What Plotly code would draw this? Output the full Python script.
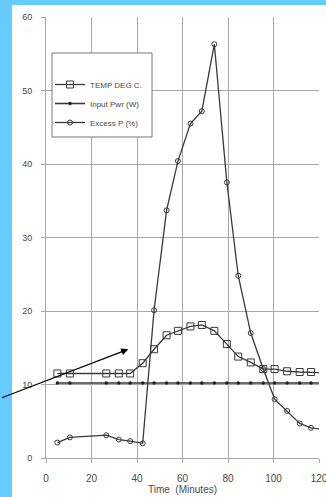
import plotly.graph_objects as go

# Data
time = [5, 10.5, 26.5, 32, 37, 42.5, 47.5, 53, 58, 63.5, 68.5, 74, 79.5, 84.5,
        90, 95.5, 100.5, 106, 111.5, 116.5, 122]
temp = [11.5, 11.5, 11.5, 11.5, 11.5, 12.9, 14.8, 16.7, 17.3, 17.9, 18.1, 17.3,
        15.5, 13.8, 13.0, 12.1, 12.1, 11.8, 11.7, 11.7, 11.6]
input_pwr = [10.2] * 21
excess = [2.1, 2.8, 3.1, 2.5, 2.3, 2.0, 20.1, 33.7, 40.4, 45.5, 47.2, 56.3,
          37.5, 24.8, 17.0, 12.1, 8.0, 6.4, 4.7, 4.1, 3.9]
x_ticks = [0, 20, 40, 60, 80, 100, 120]
y_ticks = [0, 10, 20, 30, 40, 50, 60]

LINE = "#3a3a3a"
TXT = "#4a4a4a"
GRID = "#a8a8a8"
FONT = "Liberation Sans, Arial, sans-serif"

fig = go.Figure()
fig.add_trace(go.Scatter(
    x=time, y=temp, name="TEMP DEG C.", mode="lines+markers",
    line=dict(color=LINE, width=1.3),
    marker=dict(symbol="square-open", size=7, color=LINE, line=dict(width=1)),
))
fig.add_trace(go.Scatter(
    x=time, y=input_pwr, name="Input Pwr (W)", mode="lines+markers",
    line=dict(color=LINE, width=1.6),
    marker=dict(symbol="circle", size=3.5, color="#222"),
))
fig.add_trace(go.Scatter(
    x=time, y=excess, name="Excess P (%)", mode="lines+markers",
    line=dict(color=LINE, width=1.3),
    marker=dict(symbol="circle-open", size=5, color=LINE, line=dict(width=1)),
))

W, H = 326, 497
ml, mr, mt, mb = 46, 7, 17, 39
pw, ph = W - ml - mr, H - mt - mb

def px(x):
    return (x - ml) / pw

def py(y):
    return (H - mb - y) / ph

fig.update_layout(
    width=W, height=H,
    margin=dict(l=ml, r=mr, t=mt, b=mb, pad=0, autoexpand=False),
    paper_bgcolor="#66CCFF",
    plot_bgcolor="white",
    font=dict(family=FONT, color=TXT, size=9),
    showlegend=True,
    legend=dict(
        x=px(50), y=py(70), xanchor="left", yanchor="top",
        bgcolor="rgba(0,0,0,0)", borderwidth=0,
        font=dict(size=8, color=TXT),
        tracegroupgap=0,
    ),
    shapes=[
        dict(type="rect", xref="paper", yref="paper", layer="below",
             x0=px(12), x1=px(340), y0=py(510), y1=py(5),
             fillcolor="white", line=dict(width=0)),
        dict(type="rect", xref="paper", yref="paper",
             x0=px(52), x1=px(152), y0=py(137), y1=py(53),
             fillcolor="white", line=dict(color="#777", width=1), layer="above"),
    ],
    annotations=[
        dict(x=36.2, y=14.8, xref="x", yref="y", text="", showarrow=True,
             ax=-128, ay=49, arrowhead=2, arrowsize=1.3, arrowwidth=1.1,
             arrowcolor="black"),
    ],
)
for i, tr in enumerate(fig.data):
    tr.legendgroup = str(i)

fig.update_xaxes(
    range=[0, 120], tickvals=x_ticks, ticktext=[str(v) for v in x_ticks],
    showgrid=True, gridcolor=GRID, gridwidth=1,
    showline=True, linecolor=GRID, linewidth=1,
    ticks="outside", ticklen=4, tickcolor=GRID, ticklabelstandoff=7,
    tickfont=dict(size=10, color=TXT), zeroline=False,
    automargin=False, ticklabeloverflow="allow",
    title=dict(text="Time  (Minutes)", font=dict(size=10, color=TXT), standoff=2),
)
fig.update_yaxes(
    range=[0, 60], tickvals=y_ticks, ticktext=[str(v) for v in y_ticks],
    showgrid=True, gridcolor=GRID, gridwidth=1,
    showline=True, linecolor=GRID, linewidth=1,
    ticks="outside", ticklen=4, tickcolor=GRID, ticklabelstandoff=7,
    tickfont=dict(size=9, color=TXT), zeroline=False,
    automargin=False,
)

fig.write_html("out.html", config={"displayModeBar": False},
               post_script="document.body.style.margin='0px';")
